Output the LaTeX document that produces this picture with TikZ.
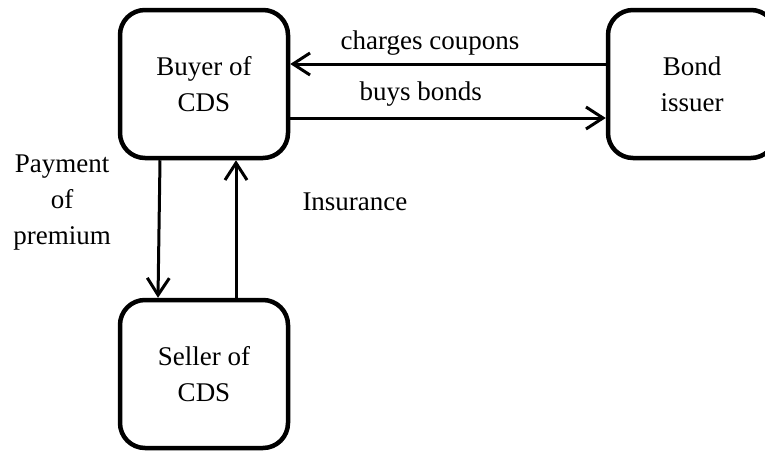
\documentclass[tikz,border=0pt]{standalone}
\usepackage{fontspec}
\setmainfont{Liberation Serif}
\usetikzlibrary{arrows.meta, positioning}

\begin{document}
\begin{tikzpicture}[
    x=1pt, y=1pt,
    node distance=137.5pt,
    every node/.style={font=\fontsize{27}{36}\selectfont},
    box/.style={rectangle, draw, line width=4.5pt, rounded corners=25pt, minimum width=168pt, minimum height=148pt, align=center},
    lbl/.style={inner sep=0pt, align=center},
    arrow/.style={-{Straight Barb[length=17pt, width=22pt]}, line width=3pt}
]
\useasboundingbox (0,0) rectangle (765,-450);

% --- parties ---
\node (buyer) [box] at (204,-84) {Buyer of\\CDS};

\node (issuer) [box, right=315.5pt of buyer] {Bond\\issuer};

\node (seller) [box, below=of buyer] {Seller of\\CDS};

% --- bond flows ---
\draw [arrow] ([yshift=20pt]issuer.west) -- node[lbl, pos=0.557, anchor=base, yshift=15pt] {charges coupons} ([yshift=20pt]buyer.east);
\draw [arrow] ([yshift=-34pt]buyer.east) -- node[lbl, pos=0.414, anchor=base, yshift=18pt] {buys bonds} ([yshift=-34pt]issuer.west);

% --- CDS flows ---
\draw [arrow] ([xshift=-44pt]buyer.south) -- node[lbl, pos=0.31, left=47pt] {Payment\\of\\premium} ([xshift=-46pt]seller.north);
\draw [arrow] ([xshift=32pt]seller.north) -- node[lbl, pos=0.70, right=65pt] {Insurance} ([xshift=32pt]buyer.south);

\end{tikzpicture}
\end{document}
